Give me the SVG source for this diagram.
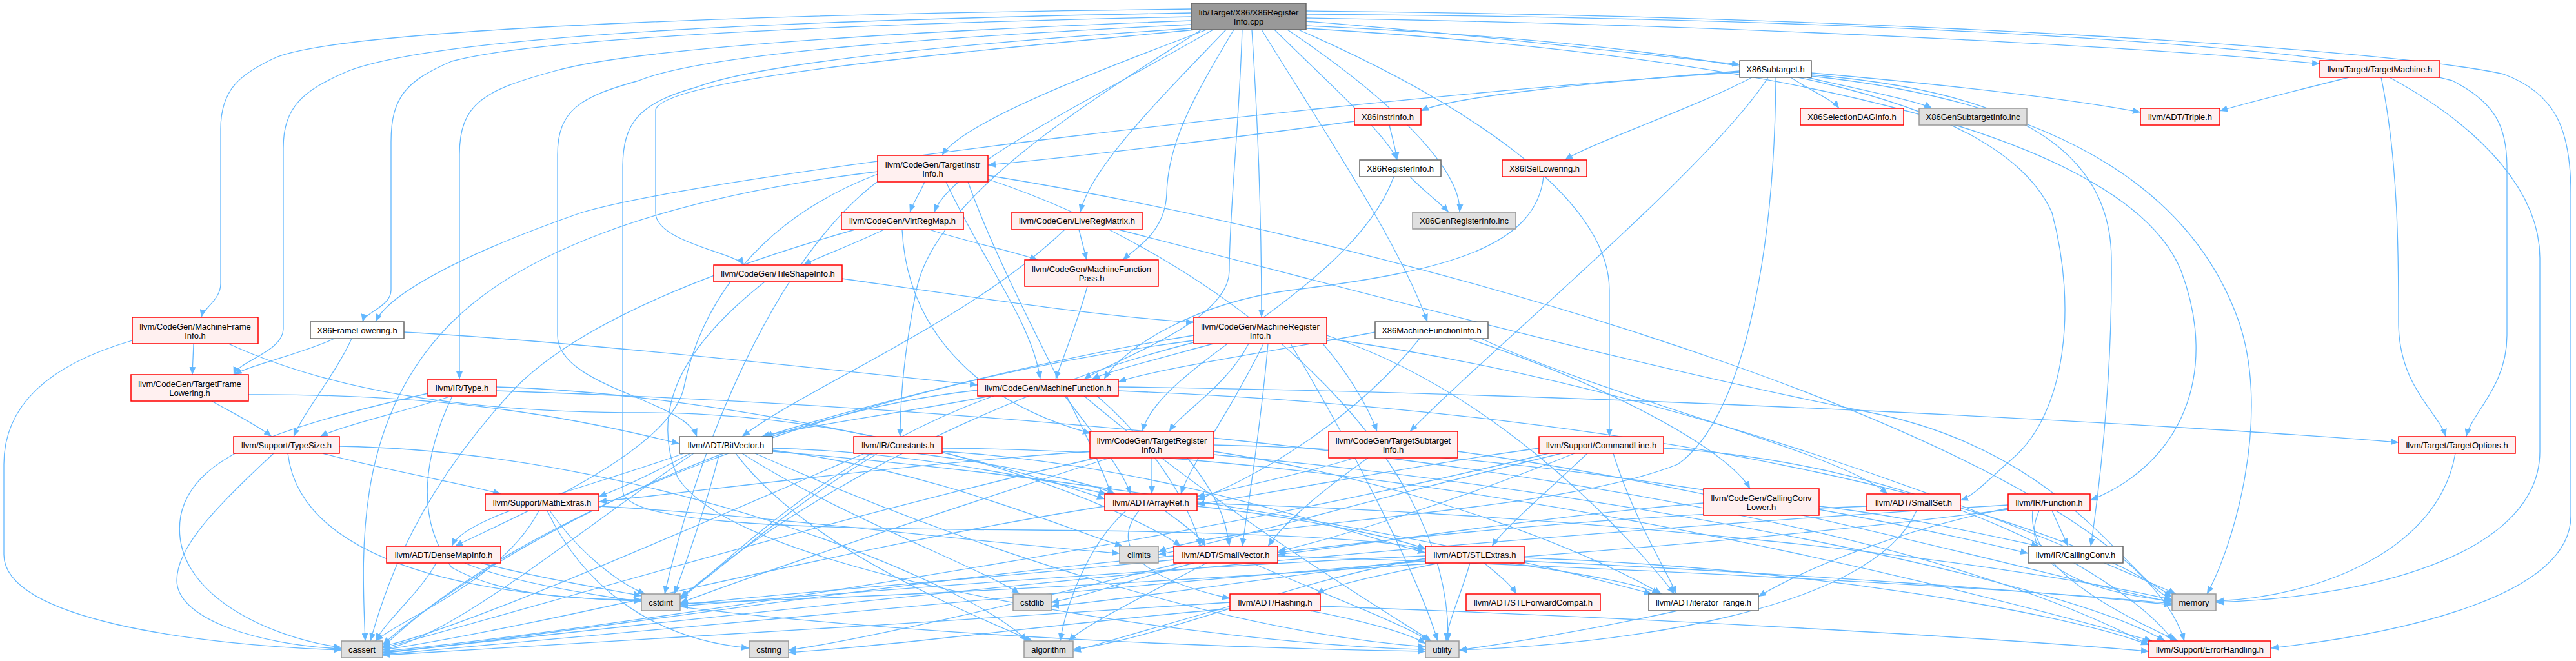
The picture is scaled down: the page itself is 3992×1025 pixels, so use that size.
<svg xmlns="http://www.w3.org/2000/svg" width="3992" height="1025" viewBox="0 0 3992 1025">
<style>
.e{fill:none;stroke:#63b8ff;stroke-width:1.3;marker-end:url(#arr)}
.n rect{stroke-width:1.5}
.root{fill:#999999;stroke:#666666}
.w{fill:#ffffff;stroke:#666666}
.r{fill:#fff0f0;stroke:#ff0000}
.g{fill:#e0e0e0;stroke:#999999}
text{font-family:"Liberation Sans",Arial,Helvetica,sans-serif;font-size:13px;text-anchor:middle;fill:#000000}
</style>
<defs>
<marker id="arr" markerWidth="12" markerHeight="10" refX="12" refY="5" orient="auto" markerUnits="userSpaceOnUse">
<path d="M0,0 L12,5 L0,10 z" fill="#63b8ff"/>
</marker>
</defs>
<rect x="0" y="0" width="3992" height="1025" fill="#ffffff"/>
<g id="edges">
<path class="e" d="M1846,14 C1300,20 560,40 430,88 C370,115 342,140 342,200 L342,440 C342,465 315,478 312,492"/>
<path class="e" d="M1846,20 C1300,30 700,50 540,110 C470,140 439,165 439,230 L439,510 C439,545 370,560 362,581"/>
<path class="e" d="M1846,26 C1400,35 850,55 700,95 C630,125 606,150 606,220 L606,450 C606,475 565,485 562,499"/>
<path class="e" d="M1846,32 C1500,45 1000,70 860,110 C750,140 712,160 712,240 L712,588"/>
<path class="e" d="M1846,38 C1500,55 1100,80 990,125 C900,150 864,170 864,240 L864,520 C864,600 1060,620 1080,677"/>
<path class="e" d="M1846,44 C1600,60 1200,90 1080,135 C990,160 965,190 965,260 L965,760 C965,810 1200,820 1600,822 C1900,824 2150,835 2209,852"/>
<path class="e" d="M1852,46 C1500,80 1030,120 1016,170 L1016,330 C1016,375 1140,392 1153,411"/>
<path class="e" d="M1862,46 C1700,150 1450,300 1420,450 C1400,550 1395,620 1395,677"/>
<path class="e" d="M1870,46 C1700,110 1490,190 1460,241"/>
<path class="e" d="M1880,46 C1700,150 1470,260 1448,329"/>
<path class="e" d="M1900,46 C1800,150 1690,260 1674,329"/>
<path class="e" d="M1912,46 C1850,150 1810,220 1808,300 C1806,360 1760,385 1740,403"/>
<path class="e" d="M1925,46 C1920,200 1905,330 1905,420 C1905,500 1720,560 1680,588"/>
<path class="e" d="M1940,46 C1950,200 1955,350 1955,492"/>
<path class="e" d="M1955,46 C2050,200 2170,380 2212,499"/>
<path class="e" d="M1975,46 C2060,130 2150,210 2165,248"/>
<path class="e" d="M1995,46 C2150,150 2265,260 2262,329"/>
<path class="e" d="M2012,46 C2250,150 2494,300 2494,450 L2494,677"/>
<path class="e" d="M2024,33 C2300,55 2550,85 2696,100"/>
<path class="e" d="M2024,28 C2800,40 3400,80 3595,99"/>
<path class="e" d="M2024,22 C2900,28 3600,70 3800,125 C3870,160 3885,200 3885,260 L3885,520 C3885,600 3830,640 3822,677"/>
<path class="e" d="M2024,17 C2900,25 3700,75 3880,115 C3960,145 3984,200 3984,300 L3984,800 C3984,930 3700,985 3519,1005"/>
<path class="e" d="M2024,40 C2700,70 3100,150 3180,330 C3220,480 3200,640 3120,710 C3080,745 3060,768 3038,776"/>
<path class="e" d="M2024,44 C2800,90 3300,220 3380,420 C3440,580 3380,720 3239,776"/>
<path class="e" d="M2696,112 C2100,150 1100,270 900,330 C700,400 600,460 582,499"/>
<path class="e" d="M2696,110 C2450,130 2250,150 2202,172"/>
<path class="e" d="M2715,120 C2620,170 2470,220 2425,248"/>
<path class="e" d="M2775,120 C2805,140 2840,155 2850,168"/>
<path class="e" d="M2800,120 C2890,140 2975,158 2994,168"/>
<path class="e" d="M2807,113 C3000,130 3200,152 3317,174"/>
<path class="e" d="M2740,120 C2650,260 2300,550 2185,669"/>
<path class="e" d="M2752,120 C2750,400 2700,650 2600,720 C2400,800 1900,810 1795,856"/>
<path class="e" d="M2807,116 C3100,140 3270,220 3272,400 C3274,600 3250,780 3240,847"/>
<path class="e" d="M2807,118 C3200,160 3400,300 3470,500 C3520,650 3460,850 3420,921"/>
<path class="e" d="M2099,188 C1900,215 1700,240 1531,256"/>
<path class="e" d="M2153,194 C2158,215 2163,232 2165,248"/>
<path class="e" d="M2185,274 C2205,295 2232,315 2245,329"/>
<path class="e" d="M2160,274 C2095,450 1800,560 1770,669"/>
<path class="e" d="M2392,274 C2380,380 2250,420 2000,450 C1850,470 1740,540 1711,588"/>
<path class="e" d="M518,525 C470,548 390,565 363,581"/>
<path class="e" d="M545,525 C520,580 470,640 455,677"/>
<path class="e" d="M626,515 C900,530 1300,575 1515,597"/>
<path class="e" d="M300,533 L298,581"/>
<path class="e" d="M205,528 C60,570 6,640 6,720 L6,860 C6,960 300,1000 529,1008"/>
<path class="e" d="M354,533 C500,600 700,640 1000,640 C1400,640 1750,790 1830,847"/>
<path class="e" d="M328,622 C360,640 400,660 421,677"/>
<path class="e" d="M385,612 C700,610 900,650 1053,688"/>
<path class="e" d="M700,614 C620,640 530,660 496,677"/>
<path class="e" d="M663,610 C450,660 300,700 280,800 C260,920 420,990 529,1004"/>
<path class="e" d="M701,614 C660,700 640,800 700,880 C780,925 900,930 994,930"/>
<path class="e" d="M769,600 C1100,610 1500,700 1712,774"/>
<path class="e" d="M769,606 C1500,630 2800,720 3330,1000"/>
<path class="e" d="M500,703 C600,730 720,750 776,766"/>
<path class="e" d="M424,703 C330,790 274,850 274,900 C274,960 400,1000 529,1006"/>
<path class="e" d="M446,703 C460,820 600,920 994,932"/>
<path class="e" d="M526,692 C1000,700 1500,900 1592,994"/>
<path class="e" d="M835,792 C780,900 620,960 582,994"/>
<path class="e" d="M852,792 C900,860 960,905 1000,921"/>
<path class="e" d="M928,785 C1200,800 1500,840 1735,858"/>
<path class="e" d="M848,792 C900,900 1000,990 1161,1005"/>
<path class="e" d="M676,873 C650,920 600,960 582,994"/>
<path class="e" d="M745,873 C850,900 950,915 994,924"/>
<path class="e" d="M720,873 C900,950 1600,1000 2209,1010"/>
<path class="e" d="M1197,695 C1400,700 1600,740 1715,766"/>
<path class="e" d="M1060,703 C900,760 720,800 700,847"/>
<path class="e" d="M1197,700 C1800,750 2300,850 2560,921"/>
<path class="e" d="M1070,703 C1000,740 955,760 928,770"/>
<path class="e" d="M1140,703 C1250,850 1500,950 1600,994"/>
<path class="e" d="M1075,703 C900,820 700,990 593,1007"/>
<path class="e" d="M1197,698 C1450,730 1650,820 1740,847"/>
<path class="e" d="M1115,703 C1090,800 1060,880 1045,921"/>
<path class="e" d="M1150,703 C1300,800 1520,880 1580,921"/>
<path class="e" d="M1170,703 C1500,850 1900,980 2209,1003"/>
<path class="e" d="M1420,703 C1550,720 1680,745 1728,766"/>
<path class="e" d="M1460,700 C1800,720 2100,830 2209,857"/>
<path class="e" d="M1460,695 C2200,700 3000,900 3335,994"/>
<path class="e" d="M1340,703 C1000,850 700,980 593,1002"/>
<path class="e" d="M1360,703 C1200,800 1100,900 1054,925"/>
<path class="e" d="M1433,282 C1425,300 1415,315 1410,329"/>
<path class="e" d="M1466,282 C1520,400 1600,500 1612,588"/>
<path class="e" d="M1500,282 C1560,450 1680,650 1722,766"/>
<path class="e" d="M1360,270 C1150,350 1080,500 1060,600 C1040,700 800,800 705,847"/>
<path class="e" d="M1531,272 C2200,380 3300,700 3385,994"/>
<path class="e" d="M1531,278 C1900,400 2250,700 2244,994"/>
<path class="e" d="M1360,266 C1000,310 800,400 700,500 C550,650 560,850 566,994"/>
<path class="e" d="M1362,280 C1200,400 1080,700 1030,921"/>
<path class="e" d="M1440,356 C1500,375 1570,390 1608,403"/>
<path class="e" d="M1370,356 C1320,380 1265,400 1245,411"/>
<path class="e" d="M1398,356 C1405,500 1500,620 1690,672"/>
<path class="e" d="M1325,356 C1100,420 900,500 800,600 C650,760 600,900 574,994"/>
<path class="e" d="M1672,356 L1684,403"/>
<path class="e" d="M1650,356 C1500,500 1250,600 1150,677"/>
<path class="e" d="M1733,356 C2100,450 2500,560 2900,640 C3200,700 3300,900 3366,930"/>
<path class="e" d="M1305,432 C1500,460 1700,490 1850,500"/>
<path class="e" d="M1185,437 C1080,520 1000,620 1050,740 C1150,900 1900,1000 2209,1007"/>
<path class="e" d="M1685,444 C1670,500 1645,560 1636,588"/>
<path class="e" d="M1880,533 C1800,555 1720,575 1692,588"/>
<path class="e" d="M1935,533 C1900,600 1830,640 1812,669"/>
<path class="e" d="M2050,533 C2090,580 2120,630 2134,669"/>
<path class="e" d="M1958,533 C1900,650 1845,720 1830,766"/>
<path class="e" d="M1850,520 C1600,560 1300,640 1185,677"/>
<path class="e" d="M1965,533 C1955,650 1935,780 1925,847"/>
<path class="e" d="M2056,520 C2300,600 2500,800 2595,921"/>
<path class="e" d="M1850,528 C1300,600 800,800 593,1004"/>
<path class="e" d="M1850,531 C1500,620 1200,800 1054,928"/>
<path class="e" d="M2056,525 C2600,600 3100,800 3372,921"/>
<path class="e" d="M2000,533 C2100,700 2200,900 2228,994"/>
<path class="e" d="M1650,614 C1700,680 1740,730 1752,766"/>
<path class="e" d="M1535,614 C1400,640 1250,660 1180,677"/>
<path class="e" d="M1700,614 C1800,700 1850,800 1860,847"/>
<path class="e" d="M1733,600 C2500,610 3400,660 3717,686"/>
<path class="e" d="M1515,605 C1100,650 700,900 593,1000"/>
<path class="e" d="M1540,614 C1300,700 1150,850 1054,930"/>
<path class="e" d="M1733,606 C2600,640 3200,800 3366,926"/>
<path class="e" d="M1680,614 C1900,800 2150,950 2218,994"/>
<path class="e" d="M2200,525 C2100,650 1950,740 1855,775"/>
<path class="e" d="M2275,525 C2500,600 2680,700 2712,758"/>
<path class="e" d="M2131,515 C2000,540 1800,570 1733,592"/>
<path class="e" d="M2295,525 C2500,620 2850,700 2925,766"/>
<path class="e" d="M1785,710 L1785,766"/>
<path class="e" d="M1840,710 C1880,760 1900,800 1905,847"/>
<path class="e" d="M1881,700 C2200,750 2450,850 2575,921"/>
<path class="e" d="M1881,690 C2400,700 2900,800 3143,858"/>
<path class="e" d="M1881,705 C2500,760 3200,900 3355,994"/>
<path class="e" d="M1689,700 C1400,720 1100,760 928,778"/>
<path class="e" d="M1700,710 C1300,800 800,950 593,1005"/>
<path class="e" d="M1720,710 C1500,780 1200,880 1054,935"/>
<path class="e" d="M2100,710 C2000,740 1900,760 1855,770"/>
<path class="e" d="M2120,710 C2050,760 1990,810 1965,847"/>
<path class="e" d="M2259,700 C2700,760 3200,900 3366,934"/>
<path class="e" d="M2385,695 C2200,720 2000,760 1855,782"/>
<path class="e" d="M2460,703 C2400,760 2330,820 2312,847"/>
<path class="e" d="M2440,703 C2250,780 2050,840 1980,855"/>
<path class="e" d="M2500,703 C2530,800 2580,880 2598,921"/>
<path class="e" d="M2578,695 C3000,720 3300,900 3368,994"/>
<path class="e" d="M2400,703 C1800,850 900,980 593,1010"/>
<path class="e" d="M2420,703 C2100,780 1900,840 1795,860"/>
<path class="e" d="M2640,780 C2400,800 2150,840 1980,860"/>
<path class="e" d="M2819,785 C2950,800 3080,830 3160,847"/>
<path class="e" d="M2893,785 C2500,800 2200,830 1980,857"/>
<path class="e" d="M2970,792 C2900,950 2500,1000 2261,1008"/>
<path class="e" d="M3180,792 L3205,847"/>
<path class="e" d="M3112,788 C2950,820 2800,880 2725,925"/>
<path class="e" d="M3160,792 C3120,880 3250,920 3366,932"/>
<path class="e" d="M3112,783 C2000,850 1000,970 593,1012"/>
<path class="e" d="M3112,790 C2500,870 1500,920 1054,936"/>
<path class="e" d="M3150,792 C3140,880 3280,950 3375,994"/>
<path class="e" d="M1805,792 C1830,810 1858,830 1868,847"/>
<path class="e" d="M1765,792 C1710,860 1800,905 1906,928"/>
<path class="e" d="M1855,785 C2000,800 2150,830 2209,851"/>
<path class="e" d="M1745,792 C1680,850 1650,950 1643,994"/>
<path class="e" d="M1712,785 C1300,850 900,960 593,1008"/>
<path class="e" d="M1855,780 C2500,800 3100,870 3366,930"/>
<path class="e" d="M1870,873 C1780,920 1680,970 1656,994"/>
<path class="e" d="M1819,862 C1400,900 900,980 593,1013"/>
<path class="e" d="M1850,873 C1750,900 1680,925 1629,934"/>
<path class="e" d="M1830,873 C1600,930 1350,990 1222,1008"/>
<path class="e" d="M1980,862 C2500,880 3100,910 3366,936"/>
<path class="e" d="M1940,873 C2050,920 2180,970 2215,994"/>
<path class="e" d="M1819,868 C1500,900 1200,920 1054,938"/>
<path class="e" d="M2230,873 C2150,890 2070,905 2040,921"/>
<path class="e" d="M2300,873 C2320,890 2340,905 2350,921"/>
<path class="e" d="M2340,873 C2450,890 2540,905 2572,921"/>
<path class="e" d="M2362,865 C2800,880 3200,950 3330,1000"/>
<path class="e" d="M2209,866 C2000,900 1800,990 1663,1007"/>
<path class="e" d="M2209,870 C1600,920 900,990 593,1015"/>
<path class="e" d="M2209,862 C1800,880 1300,920 1054,940"/>
<path class="e" d="M2209,868 C2000,890 1750,930 1629,940"/>
<path class="e" d="M2362,870 C2800,890 3200,920 3366,938"/>
<path class="e" d="M2278,873 C2265,920 2245,960 2241,994"/>
<path class="e" d="M2046,940 C2600,960 3100,990 3330,1010"/>
<path class="e" d="M1906,940 C1800,970 1700,1000 1663,1010"/>
<path class="e" d="M1906,934 C1500,960 900,1000 593,1016"/>
<path class="e" d="M1906,944 C1700,960 1400,1000 1222,1012"/>
<path class="e" d="M2030,947 C2100,960 2180,980 2209,998"/>
<path class="e" d="M2600,947 C2450,980 2320,1000 2261,1008"/>
<path class="e" d="M3640,120 C3560,140 3480,160 3440,172"/>
<path class="e" d="M3690,120 C3717,250 3717,400 3717,500 C3717,600 3780,640 3790,677"/>
<path class="e" d="M3703,120 C3850,200 3936,300 3936,400 L3936,700 C3936,850 3700,925 3434,934"/>
<path class="e" d="M3805,703 C3780,850 3600,925 3434,932"/>
</g>
<g id="node-root" class="n"><rect class="root" x="1846" y="5" width="178" height="41"/><text x="1935" y="24">lib/Target/X86/X86Register</text><text x="1935" y="38">Info.cpp</text></g>
<g id="node-TargetInstrInfo" class="n"><rect class="r" x="1360" y="241" width="171" height="41"/><text x="1445.5" y="260">llvm/CodeGen/TargetInstr</text><text x="1445.5" y="274">Info.h</text></g>
<g id="node-VirtRegMap" class="n"><rect class="r" x="1304" y="329" width="189" height="27"/><text x="1398.5" y="347">llvm/CodeGen/VirtRegMap.h</text></g>
<g id="node-LiveRegMatrix" class="n"><rect class="r" x="1568" y="329" width="202" height="27"/><text x="1669" y="347">llvm/CodeGen/LiveRegMatrix.h</text></g>
<g id="node-X86Subtarget" class="n"><rect class="w" x="2696" y="94" width="111" height="26"/><text x="2751.5" y="111.5">X86Subtarget.h</text></g>
<g id="node-X86InstrInfo" class="n"><rect class="r" x="2099" y="168" width="103" height="26"/><text x="2150.5" y="185.5">X86InstrInfo.h</text></g>
<g id="node-X86SelectionDAGInfo" class="n"><rect class="r" x="2790" y="168" width="160" height="26"/><text x="2870" y="185.5">X86SelectionDAGInfo.h</text></g>
<g id="node-X86GenSubtargetInfo" class="n"><rect class="g" x="2974" y="168" width="167" height="26"/><text x="3057.5" y="185.5">X86GenSubtargetInfo.inc</text></g>
<g id="node-TargetMachine" class="n"><rect class="r" x="3595" y="94" width="186" height="26"/><text x="3688" y="111.5">llvm/Target/TargetMachine.h</text></g>
<g id="node-Triple" class="n"><rect class="r" x="3317" y="168" width="123" height="26"/><text x="3378.5" y="185.5">llvm/ADT/Triple.h</text></g>
<g id="node-X86RegisterInfo" class="n"><rect class="w" x="2107" y="248" width="126" height="26"/><text x="2170" y="265.5">X86RegisterInfo.h</text></g>
<g id="node-X86ISelLowering" class="n"><rect class="r" x="2328" y="248" width="131" height="26"/><text x="2393.5" y="265.5">X86ISelLowering.h</text></g>
<g id="node-X86GenRegisterInfo" class="n"><rect class="g" x="2189" y="329" width="160" height="26"/><text x="2269" y="346.5">X86GenRegisterInfo.inc</text></g>
<g id="node-MachineFrameInfo" class="n"><rect class="r" x="205" y="492" width="195" height="41"/><text x="302.5" y="511">llvm/CodeGen/MachineFrame</text><text x="302.5" y="525">Info.h</text></g>
<g id="node-X86FrameLowering" class="n"><rect class="w" x="481" y="499" width="145" height="26"/><text x="553.5" y="516.5">X86FrameLowering.h</text></g>
<g id="node-TargetFrameLowering" class="n"><rect class="r" x="203" y="581" width="182" height="41"/><text x="294" y="600">llvm/CodeGen/TargetFrame</text><text x="294" y="614">Lowering.h</text></g>
<g id="node-Type" class="n"><rect class="r" x="663" y="588" width="106" height="26"/><text x="716" y="605.5">llvm/IR/Type.h</text></g>
<g id="node-TypeSize" class="n"><rect class="r" x="362" y="677" width="164" height="26"/><text x="444" y="694.5">llvm/Support/TypeSize.h</text></g>
<g id="node-TileShapeInfo" class="n"><rect class="r" x="1106" y="411" width="199" height="26"/><text x="1205.5" y="428.5">llvm/CodeGen/TileShapeInfo.h</text></g>
<g id="node-MachineFunctionPass" class="n"><rect class="r" x="1588" y="403" width="207" height="41"/><text x="1691.5" y="422">llvm/CodeGen/MachineFunction</text><text x="1691.5" y="436">Pass.h</text></g>
<g id="node-MachineRegisterInfo" class="n"><rect class="r" x="1850" y="492" width="206" height="41"/><text x="1953" y="511">llvm/CodeGen/MachineRegister</text><text x="1953" y="525">Info.h</text></g>
<g id="node-MachineFunction" class="n"><rect class="r" x="1515" y="588" width="218" height="26"/><text x="1624" y="605.5">llvm/CodeGen/MachineFunction.h</text></g>
<g id="node-X86MachineFunctionInfo" class="n"><rect class="w" x="2131" y="499" width="175" height="26"/><text x="2218.5" y="516.5">X86MachineFunctionInfo.h</text></g>
<g id="node-BitVector" class="n"><rect class="w" x="1053" y="677" width="144" height="26"/><text x="1125" y="694.5">llvm/ADT/BitVector.h</text></g>
<g id="node-Constants" class="n"><rect class="r" x="1323" y="677" width="137" height="26"/><text x="1391.5" y="694.5">llvm/IR/Constants.h</text></g>
<g id="node-TargetRegisterInfo" class="n"><rect class="r" x="1689" y="669" width="192" height="41"/><text x="1785" y="688">llvm/CodeGen/TargetRegister</text><text x="1785" y="702">Info.h</text></g>
<g id="node-TargetSubtargetInfo" class="n"><rect class="r" x="2059" y="669" width="200" height="41"/><text x="2159" y="688">llvm/CodeGen/TargetSubtarget</text><text x="2159" y="702">Info.h</text></g>
<g id="node-CommandLine" class="n"><rect class="r" x="2385" y="677" width="193" height="26"/><text x="2481.5" y="694.5">llvm/Support/CommandLine.h</text></g>
<g id="node-TargetOptions" class="n"><rect class="r" x="3717" y="677" width="181" height="26"/><text x="3807.5" y="694.5">llvm/Target/TargetOptions.h</text></g>
<g id="node-MathExtras" class="n"><rect class="r" x="752" y="766" width="176" height="26"/><text x="840" y="783.5">llvm/Support/MathExtras.h</text></g>
<g id="node-ArrayRef" class="n"><rect class="r" x="1712" y="766" width="143" height="26"/><text x="1783.5" y="783.5">llvm/ADT/ArrayRef.h</text></g>
<g id="node-CallingConvLower" class="n"><rect class="r" x="2640" y="758" width="179" height="41"/><text x="2729.5" y="777">llvm/CodeGen/CallingConv</text><text x="2729.5" y="791">Lower.h</text></g>
<g id="node-SmallSet" class="n"><rect class="r" x="2893" y="766" width="145" height="26"/><text x="2965.5" y="783.5">llvm/ADT/SmallSet.h</text></g>
<g id="node-Function" class="n"><rect class="r" x="3112" y="766" width="127" height="26"/><text x="3175.5" y="783.5">llvm/IR/Function.h</text></g>
<g id="node-DenseMapInfo" class="n"><rect class="r" x="599" y="847" width="177" height="26"/><text x="687.5" y="864.5">llvm/ADT/DenseMapInfo.h</text></g>
<g id="node-climits" class="n"><rect class="g" x="1735" y="847" width="60" height="26"/><text x="1765" y="864.5">climits</text></g>
<g id="node-SmallVector" class="n"><rect class="r" x="1819" y="847" width="161" height="26"/><text x="1899.5" y="864.5">llvm/ADT/SmallVector.h</text></g>
<g id="node-STLExtras" class="n"><rect class="r" x="2209" y="847" width="153" height="26"/><text x="2285.5" y="864.5">llvm/ADT/STLExtras.h</text></g>
<g id="node-CallingConv" class="n"><rect class="w" x="3143" y="847" width="147" height="26"/><text x="3216.5" y="864.5">llvm/IR/CallingConv.h</text></g>
<g id="node-cstdint" class="n"><rect class="g" x="994" y="921" width="60" height="26"/><text x="1024" y="938.5">cstdint</text></g>
<g id="node-cstdlib" class="n"><rect class="g" x="1570" y="921" width="59" height="26"/><text x="1599.5" y="938.5">cstdlib</text></g>
<g id="node-Hashing" class="n"><rect class="r" x="1906" y="921" width="140" height="26"/><text x="1976" y="938.5">llvm/ADT/Hashing.h</text></g>
<g id="node-STLForwardCompat" class="n"><rect class="r" x="2272" y="921" width="208" height="26"/><text x="2376" y="938.5">llvm/ADT/STLForwardCompat.h</text></g>
<g id="node-iterator_range" class="n"><rect class="w" x="2555" y="921" width="170" height="26"/><text x="2640" y="938.5">llvm/ADT/iterator_range.h</text></g>
<g id="node-memory" class="n"><rect class="g" x="3366" y="921" width="68" height="26"/><text x="3400" y="938.5">memory</text></g>
<g id="node-cassert" class="n"><rect class="g" x="529" y="994" width="64" height="26"/><text x="561" y="1011.5">cassert</text></g>
<g id="node-cstring" class="n"><rect class="g" x="1161" y="994" width="61" height="26"/><text x="1191.5" y="1011.5">cstring</text></g>
<g id="node-algorithm" class="n"><rect class="g" x="1587" y="994" width="76" height="26"/><text x="1625" y="1011.5">algorithm</text></g>
<g id="node-utility" class="n"><rect class="g" x="2209" y="994" width="52" height="26"/><text x="2235" y="1011.5">utility</text></g>
<g id="node-ErrorHandling" class="n"><rect class="r" x="3330" y="994" width="189" height="26"/><text x="3424.5" y="1011.5">llvm/Support/ErrorHandling.h</text></g>
</svg>
